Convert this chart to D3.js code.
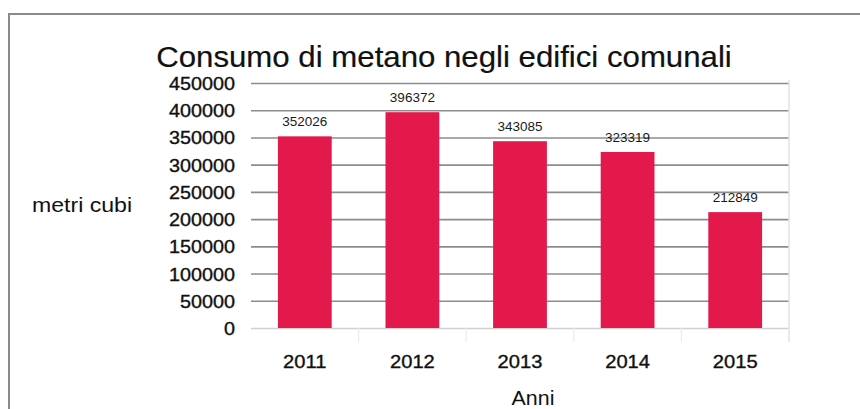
<!DOCTYPE html>
<html>
<head>
<meta charset="utf-8">
<script src="https://cdn.jsdelivr.net/npm/d3@7"></script>
<style>
  body { margin: 0; background: #fff; }
  text { font-family: "Liberation Sans", Arial, sans-serif; fill: #111; }
</style>
</head>
<body>
<script>
// dati
let anni = ['2011', '2012', '2013', '2014', '2015'];
let consumi = [352026, 396372, 343085, 323319, 212849];
let yTicks = [0, 50000, 100000, 150000, 200000, 250000, 300000, 350000, 400000, 450000];

! function () {
  let svg = d3.select('body').append('svg').attr('width', 860).attr('height', 409);

  /**
   * cornice esterna
   */
  svg.append('path')
    .attr('d', 'M9,409 V14 H860')
    .style('stroke', '#8a8a8a')
    .style('stroke-width', 2)
    .style('fill', 'none')

  /**
   * scale
   */
  let x = d3.scaleBand().domain(anni).range([251, 789]).paddingInner(0.5).paddingOuter(0.25);
  let y = d3.scaleLinear().domain([0, 450000]).range([328, 83]);

  // griglia + etichette asse y
  let yAxis = svg.append('g')
    .attr('transform', 'translate(251,0)')
    .call(d3.axisLeft(y).tickValues(yTicks).tickSize(-538).tickPadding(16).tickFormat(d3.format('d')))
  yAxis.select('.domain').remove()
  yAxis.selectAll('line')
    .style('stroke', function (d) { return d === 0 ? '#d0d0d0' : '#8c8c8c'; })
    .style('stroke-width', 1.6)
  yAxis.selectAll('text')
    .attr('x', null)
    .attr('dy', '0.36em')
    .attr('transform', 'translate(-16,0) scale(1.1,1)')
    .style('font-size', '18px')
    .style('fill', '#111')
    .style('stroke', '#111')
    .style('stroke-width', 0.35)

  // linea verticale chiara a destra
  svg.append('line')
    .attr('x1', 789).attr('x2', 789).attr('y1', 80).attr('y2', 342)
    .style('stroke', '#e2e2e2')
    .style('stroke-width', 1.5)

  // piccoli segni tra le categorie
  svg.selectAll('.sep').data(anni.slice(1)).enter().append('line')
    .attr('x1', function (d) { return x(d) - x.step() * 0.25; })
    .attr('x2', function (d) { return x(d) - x.step() * 0.25; })
    .attr('y1', 328).attr('y2', 342)
    .style('stroke', '#ececec')
    .style('stroke-width', 1.2)

  /**
   * barre
   */
  svg.selectAll('.bar').data(consumi).enter().append('rect')
    .attr('x', function (d, i) { return x(anni[i]); })
    .attr('y', function (d) { return y(d); })
    .attr('width', x.bandwidth())
    .attr('height', function (d) { return y(0) - y(d); })
    .style('fill', '#e3194b')

  // valori sopra le barre
  svg.selectAll('.val').data(consumi).enter().append('text')
    .attr('x', function (d, i) { return x(anni[i]) + x.bandwidth() / 2; })
    .attr('y', function (d) { return y(d) - 10; })
    .attr('text-anchor', 'middle')
    .style('font-size', '13.5px')
    .style('fill', '#1a1a1a')
    .text(function (d) { return d; })

  // asse x
  let xAxis = svg.append('g')
    .attr('transform', 'translate(0,328)')
    .call(d3.axisBottom(x).tickSize(0).tickPadding(0))
  xAxis.select('.domain').remove()
  xAxis.selectAll('text')
    .attr('y', 40)
    .attr('dy', 0)
    .attr('transform', 'scale(1.12,1)')
    .style('font-size', '18px')
    .style('fill', '#111')
    .style('stroke', '#111')
    .style('stroke-width', 0.35)

  /**
   * titoli
   */
  svg.append('text')
    .attr('transform', 'translate(444,67) scale(1.04,1)')
    .attr('text-anchor', 'middle')
    .style('font-size', '30px')
    .style('stroke', '#111')
    .style('stroke-width', 0.2)
    .text('Consumo di metano negli edifici comunali')

  svg.append('text')
    .attr('transform', 'translate(82,212) scale(1.1,1)')
    .attr('text-anchor', 'middle')
    .style('font-size', '21px')
    .text('metri cubi')

  svg.append('text')
    .attr('transform', 'translate(533,405) scale(1.07,1)')
    .attr('text-anchor', 'middle')
    .style('font-size', '20px')
    .text('Anni')
}()
</script>
</body>
</html>
